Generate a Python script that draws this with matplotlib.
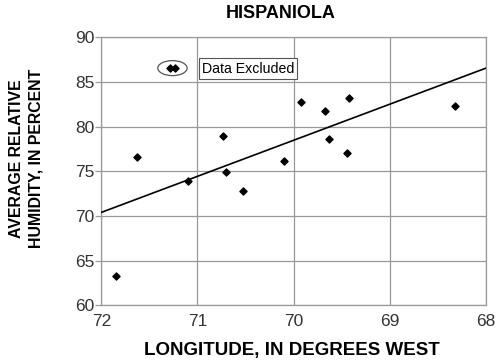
import matplotlib.pyplot as plt
from matplotlib.patches import Ellipse

plt.rcParams['font.family'] = ['Liberation Sans', 'DejaVu Sans']

# station longitude (deg W) and average relative humidity (%)
lon = [71.85, 71.63, 71.10, 70.73, 70.70, 70.53, 70.10, 69.92, 69.67, 69.63, 69.45, 69.42, 68.32]
rh = [63.3, 76.6, 73.9, 79.0, 74.9, 72.8, 76.2, 82.8, 81.7, 78.6, 77.0, 83.2, 82.3]

# excluded stations
lon_ex = [71.29, 71.23]
rh_ex = [86.6, 86.6]

# fitted line end points
fit_lon = [72, 68]
fit_rh = [70.4, 86.55]

fig = plt.figure(figsize=(5, 3.62), dpi=100)
ax = fig.add_axes([0.2026, 0.1566, 0.7694, 0.7404])

ax.plot(fit_lon, fit_rh, color='black', lw=1.2, zorder=3)
ax.scatter(lon, rh, marker='D', s=13, color='black', zorder=4)
ax.scatter(lon_ex, rh_ex, marker='D', s=13, color='black', zorder=4)
ax.add_patch(Ellipse((71.26, 86.55), 0.305, 1.68, fill=False, ec='#555555', lw=0.9))
ax.text(70.955, 86.5, 'Data Excluded', fontsize=10.2, va='center', ha='left',
        bbox=dict(boxstyle='square,pad=0.22', fc='white', ec='#555555', lw=0.8))

ax.set_xlim(72, 68)
ax.set_ylim(60, 90)
ax.set_xticks([72, 71, 70, 69, 68])
ax.set_yticks([60, 65, 70, 75, 80, 85, 90])
ax.tick_params(axis='y', length=4, width=0.9, color='#999999', labelsize=12.5,
               labelcolor='#333333', pad=1)
ax.tick_params(axis='x', length=0, labelsize=12.5, labelcolor='#333333', pad=6)
ax.grid(True, color='#999999', lw=0.9)
ax.set_axisbelow(True)
for s in ax.spines.values():
    s.set_color('#999999')
    s.set_linewidth(0.9)

fig.text(0.562, 0.964, 'HISPANIOLA', fontsize=13, fontweight='bold', ha='center', va='center')
fig.text(0.584, 0.033, 'LONGITUDE, IN DEGREES WEST', fontsize=13.5, fontweight='bold',
         ha='center', va='center')
fig.text(0.052, 0.562, 'AVERAGE RELATIVE\nHUMIDITY, IN PERCENT', fontsize=11.4, fontweight='bold',
         rotation=90, ha='center', va='center', multialignment='center', linespacing=1.4)

fig.savefig('out.png', dpi=100)
